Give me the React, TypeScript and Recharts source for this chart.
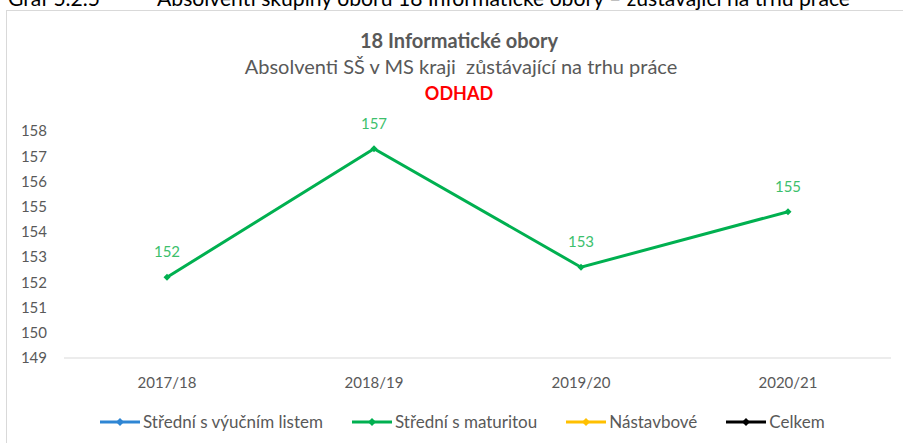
import React from 'react';
import { LineChart, Line, XAxis, YAxis, LabelList } from 'recharts';

const years = ['2017/18', '2018/19', '2019/20', '2020/21'];
const vyucni: (number | null)[] = [null, null, null, null];
const maturita = [152.2, 157.3, 152.6, 154.8];
const nastavbove: (number | null)[] = [null, null, null, null];
const celkem: (number | null)[] = [null, null, null, null];
const yTicks = [149, 150, 151, 152, 153, 154, 155, 156, 157, 158];

const SERIES = [
  { key: 'vyucni', name: 'Střední s výučním listem', color: '#2e86d4' },
  { key: 'maturita', name: 'Střední s maturitou', color: '#00b050' },
  { key: 'nastavbove', name: 'Nástavbové', color: '#ffc000' },
  { key: 'celkem', name: 'Celkem', color: '#000000' },
];

const FONT = 'Lato, "Open Sans", sans-serif';

const data = years.map((year, i) => ({
  year,
  vyucni: vyucni[i],
  maturita: maturita[i],
  nastavbove: nastavbove[i],
  celkem: celkem[i],
}));

function Diamond({ cx, cy, fill }: any) {
  if (cx == null || cy == null) return null;
  const r = 3.5;
  return <path d={`M${cx},${cy - r}L${cx + r},${cy}L${cx},${cy + r}L${cx - r},${cy}Z`} fill={fill} />;
}

function ChartLegend() {
  return (
    <div
      style={{
        position: 'absolute',
        left: 100,
        top: 411,
        display: 'flex',
        alignItems: 'center',
        fontFamily: FONT,
        fontSize: 17,
        color: '#595959',
      }}
    >
      {SERIES.map((s) => (
        <div key={s.key} style={{ display: 'flex', alignItems: 'center', marginRight: 29 }}>
          <svg width={40} height={12} style={{ marginRight: 3 }}>
            <line x1={0} y1={6} x2={40} y2={6} stroke={s.color} strokeWidth={3} />
            <path d="M20,2L24,6L20,10L16,6Z" fill={s.color} />
          </svg>
          <span>{s.name}</span>
        </div>
      ))}
    </div>
  );
}

export default function App() {
  return (
    <div
      style={{
        position: 'absolute',
        left: 0,
        top: 0,
        width: 903,
        height: 443,
        background: '#fff',
        overflow: 'hidden',
      }}
    >
      <svg width={903} height={20} style={{ position: 'absolute', left: 0, top: 0 }}>
        <text x={8} y={6} fontFamily={FONT} fontSize={21} fill="#000" textLength={92} lengthAdjust="spacingAndGlyphs">
          Graf 5.2.5
        </text>
        <text x={157} y={6} fontFamily={FONT} fontSize={21} fill="#000" textLength={693} lengthAdjust="spacingAndGlyphs">
          Absolventi skupiny oborů 18 Informatické obory – zůstávající na trhu práce
        </text>
      </svg>
      <div
        style={{
          position: 'absolute',
          left: 6,
          top: 10,
          width: 920,
          height: 460,
          border: '1px solid #d9d9d9',
        }}
      />
      <svg width={903} height={110} style={{ position: 'absolute', left: 0, top: 0 }}>
        <text x={459} y={48} textAnchor="middle" fontFamily={FONT} fontSize={20} fontWeight="bold" fill="#595959">
          18 Informatické obory
        </text>
        <text
          x={461}
          y={74}
          textAnchor="middle"
          fontFamily={FONT}
          fontSize={20}
          fill="#595959"
          style={{ whiteSpace: 'pre' }}
        >
          Absolventi SŠ v MS kraji  zůstávající na trhu práce
        </text>
        <text x={459} y={100} textAnchor="middle" fontFamily={FONT} fontSize={18} fontWeight="bold" fill="#ff0000">
          ODHAD
        </text>
      </svg>
      <div style={{ position: 'absolute', left: 0, top: 0 }}>
        <LineChart width={903} height={443} data={data} margin={{ top: 131, right: 12, left: 0, bottom: 55 }}>
          <XAxis
            dataKey="year"
            height={30}
            padding={{ left: 103, right: 103 }}
            tick={{ fill: '#595959', fontSize: 15, fontFamily: FONT }}
            axisLine={{ stroke: '#d9d9d9' }}
            tickLine={false}
            tickSize={0}
            tickMargin={19}
          />
          <YAxis
            type="number"
            domain={[149, 158]}
            ticks={yTicks}
            interval={0}
            width={64}
            tick={{ fill: '#595959', fontSize: 15, fontFamily: FONT }}
            axisLine={false}
            tickLine={false}
            tickSize={0}
            tickMargin={17}
          />
          {SERIES.map((s) => (
            <Line
              key={s.key}
              dataKey={s.key}
              name={s.name}
              stroke={s.color}
              strokeWidth={3}
              dot={<Diamond fill={s.color} />}
              activeDot={false}
              isAnimationActive={false}
            >
              {s.key === 'maturita' && (
                <LabelList
                  dataKey={s.key}
                  position="top"
                  offset={20}
                  fill="#3cbf6c"
                  fontSize={15}
                  fontFamily={FONT}
                  formatter={(v: any) => Math.round(v)}
                />
              )}
            </Line>
          ))}
        </LineChart>
      </div>
      <ChartLegend />
    </div>
  );
}
